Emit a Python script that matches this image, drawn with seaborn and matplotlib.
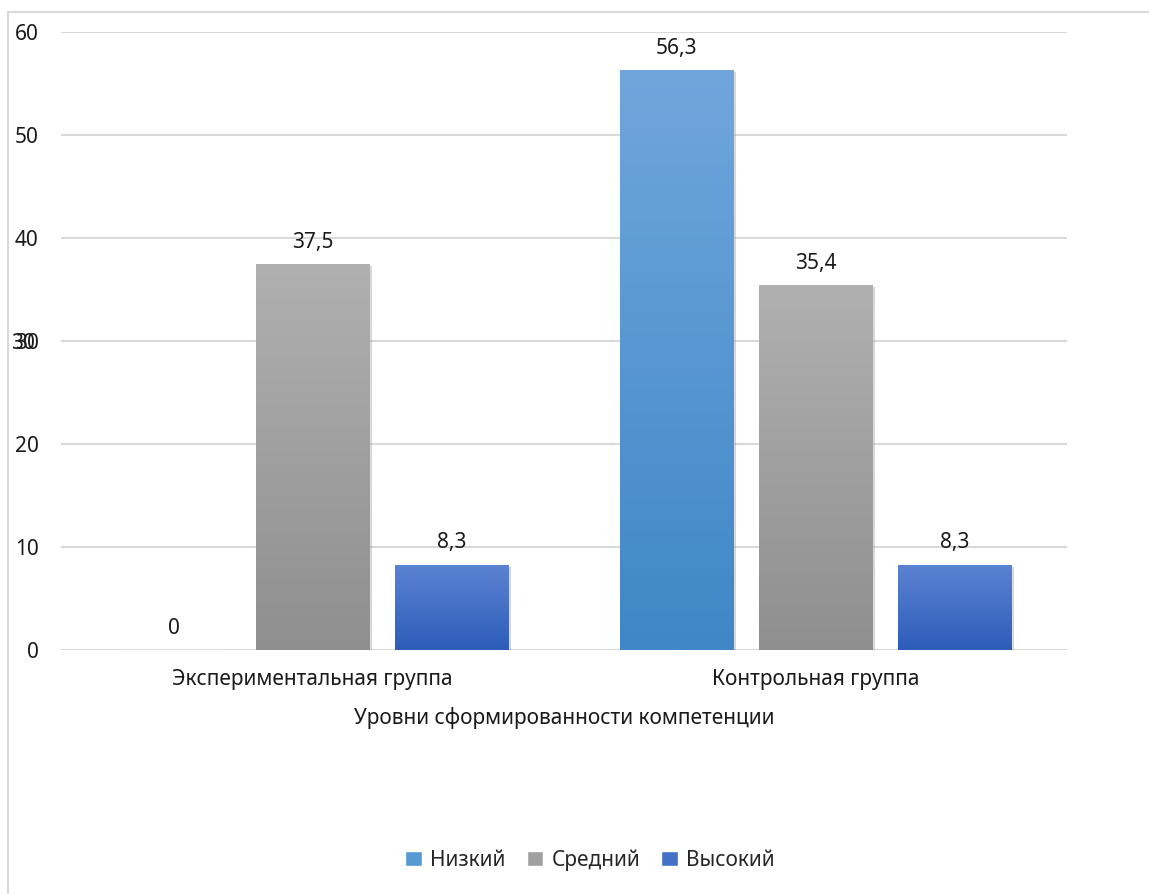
import numpy as np
import pandas as pd
import matplotlib
matplotlib.use("Agg")
import matplotlib.pyplot as plt
import matplotlib.patheffects as pe
from matplotlib.lines import Line2D
from matplotlib.colors import LinearSegmentedColormap
import seaborn as sns

groups = ["Экспериментальная группа", "Контрольная группа"]
levels = ["Низкий", "Средний", "Высокий"]
low_vals = [0, 56.3]
mid_vals = [37.5, 35.4]
high_vals = [8.3, 8.3]
y_ticks = [0, 10, 20, 30, 40, 50, 60]
x_title = "Уровни сформированности компетенции"

colors_top = {"Низкий": "#70a6dc", "Средний": "#b0b0b0", "Высокий": "#5c83d3"}
colors_bot = {"Низкий": "#3f87c7", "Средний": "#8f8f8f", "Высокий": "#2d5db9"}
colors_mid = {"Низкий": "#559ad3", "Средний": "#a0a0a0", "Высокий": "#4470c6"}

rows = []
for lvl, vals in zip(levels, [low_vals, mid_vals, high_vals]):
    for g, v in zip(groups, vals):
        rows.append({"group": g, "level": lvl, "value": v})
df = pd.DataFrame(rows)

sns.set_theme(style="white")
plt.rcParams["font.family"] = ["Noto Sans", "DejaVu Sans"]

FS = 15
W, H = 1149, 894
fig = plt.figure(figsize=(W / 100, H / 100), dpi=100)
ax = fig.add_axes([61 / W, 1 - 650 / H, (1067 - 61) / W, (650 - 32) / H])

sns.barplot(data=df, x="group", y="value", hue="level", order=groups,
            hue_order=levels, palette=colors_mid, width=0.829, gap=0.18,
            ax=ax, legend=True, saturation=1)

xlim = (-(312.5 - 61) / 503, 1 + (1067 - 815.5) / 503)
ax.set_xlim(*xlim)
ax.set_ylim(0, 60)

# gradient fill of the bars
for lvl, cont in zip(levels, ax.containers):
    cmap = LinearSegmentedColormap.from_list(lvl, [colors_bot[lvl], colors_top[lvl]])
    for p in cont.patches:
        p.set_path_effects([pe.SimplePatchShadow(offset=(1.5, -1.5), shadow_rgbFace="#777777", alpha=0.3),
                            pe.Normal()])
        x0, y0 = p.get_x(), p.get_y()
        w, h = p.get_width(), p.get_height()
        if h <= 0:
            continue
        grad = np.linspace(0, 1, 256).reshape(-1, 1)
        im = ax.imshow(grad, cmap=cmap, origin="lower", aspect="auto",
                       extent=(x0, x0 + w, y0, y0 + h), zorder=p.get_zorder() + 0.1)
        im.set_clip_path(p)
    labels = [("{:g}".format(v)).replace(".", ",") for v in [pp.get_height() for pp in cont.patches]]
    ax.bar_label(cont, labels=labels, padding=8, fontsize=FS, color="#1a1a1a")

ax.set_xlim(*xlim)
ax.set_ylim(0, 60)

ax.set_yticks(y_ticks)
ax.set_yticklabels([str(t) for t in y_ticks])
ax.yaxis.grid(True, color="#d9d9d9", linewidth=1.5)
ax.set_axisbelow(True)
for s in ax.spines.values():
    s.set_visible(False)
ax.tick_params(axis="y", length=0, pad=16, labelsize=FS, labelcolor="#1a1a1a")
ax.tick_params(axis="x", length=0, pad=14, labelsize=FS, labelcolor="#1a1a1a")
ax.set_ylabel("")
ax.set_xlabel(x_title, fontsize=FS, color="#1a1a1a", labelpad=12)

# overlapping ghost label seen at 30 in the reference
ax.text(-(61 - 35) / (1067 - 61), 30, "30", transform=ax.get_yaxis_transform(),
        fontsize=FS, color="#1a1a1a", ha="right", va="center_baseline")

leg = ax.legend(loc="center", bbox_to_anchor=((590 - 61) / 1006, (650 - 860) / (650 - 32)),
                ncol=3, frameon=False, fontsize=FS, handlelength=0.8, handleheight=0.8,
                handletextpad=0.4, columnspacing=1.0)

# outer frame
fig.lines.append(Line2D([8 / W, 8 / W], [0, 1 - 12 / H], transform=fig.transFigure,
                        color="#d9d9d9", linewidth=1.5))
fig.lines.append(Line2D([8 / W, 1], [1 - 12 / H, 1 - 12 / H], transform=fig.transFigure,
                        color="#d9d9d9", linewidth=1.5))

fig.savefig("out.png", dpi=100)
